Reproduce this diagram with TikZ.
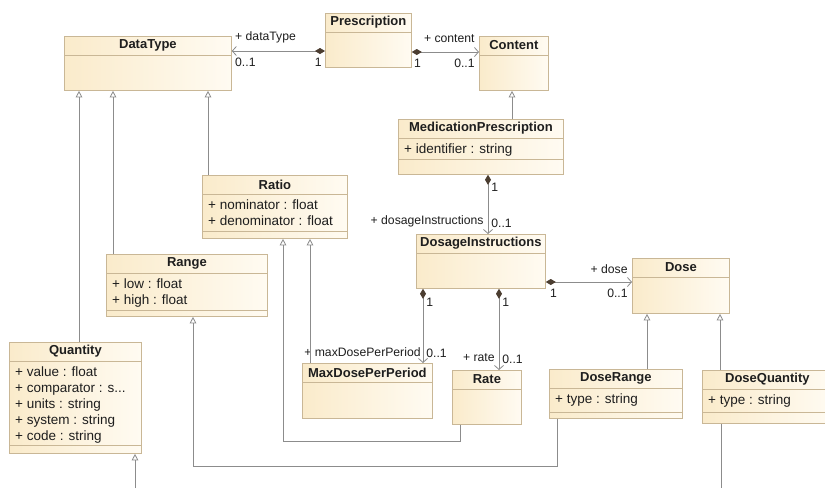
\documentclass[tikz,border=0pt]{standalone}
\usepackage{fontspec}
\setmainfont{Liberation Sans}
\usetikzlibrary{arrows.meta}

\definecolor{clsline}{HTML}{C9B796}
\definecolor{clsfill}{HTML}{FAEBCB}
\definecolor{clslight}{HTML}{FFFBF2}
\definecolor{assoc}{HTML}{8C8C8C}
\definecolor{diam}{HTML}{4B3D30}
\definecolor{ink}{HTML}{1E1E1E}

% class box: name, left, top, width, height, title
\newcommand{\umlclass}[6]{%
    \node[cls, minimum width=#4pt, minimum height=#5pt] (#1) at (#2,#3) {};
    \node[ttl] (#1-t) at ([yshift=-9.5pt]#1.north) {#6};
    \draw[clsline, line width=0.8pt] ([yshift=-19pt]#1.north west) -- ([yshift=-19pt]#1.north east);
}
% attribute compartment: class, lower divider offset, lines
\newcommand{\umlattr}[3]{%
    \node[attr] (#1-a) at ([xshift=6pt,yshift=-25pt]#1.north west) {#3};
    \draw[clsline, line width=0.8pt] ([yshift=#2pt]#1.south west) -- ([yshift=#2pt]#1.south east);
}

\begin{document}
\begin{tikzpicture}[x=1pt, y=-1pt,
    cls/.style={draw=clsline, line width=0.8pt, left color=clsfill, right color=clslight,
        anchor=north west, inner sep=0pt},
    ttl/.style={font=\fontsize{13}{15}\selectfont\bfseries, text=ink, inner sep=0pt},
    attr/.style={font=\fontsize{13.5}{16}\selectfont, text=ink, align=left, anchor=north west, inner sep=0pt},
    lbl/.style={font=\fontsize{12.2}{14}\selectfont, text=ink, inner sep=0pt},
    comp/.style={draw=assoc, line width=0.8pt,
        {Diamond[length=10pt, width=6pt, fill=diam, color=diam]}-{Straight Barb[length=4pt, width=9pt]}},
    gen/.style={draw=assoc, line width=0.8pt, -{Triangle[length=6.5pt, width=6.5pt, fill=white]}},
    plainline/.style={draw=assoc, line width=0.8pt}]
    \clip (0,0) rectangle (825,488);
    \fill[white] (0,0) rectangle (825,488);

    % classes
    \umlclass{pr}{325}{13}{86}{54}{Prescription}
    \umlclass{dt}{64}{36}{167}{54}{DataType}
    \umlclass{ct}{479}{36}{69}{54}{Content}
    \umlclass{mp}{398}{119}{165}{55}{MedicationPrescription}
    \umlattr{mp}{15}{+ identifier : string}
    \umlclass{rat}{202}{175}{145}{63}{Ratio}
    \umlattr{rat}{7}{+ nominator : float\\+ denominator : float}
    \umlclass{rng}{106}{254}{161}{62}{Range}
    \umlattr{rng}{6}{+ low : float\\+ high : float}
    \umlclass{qty}{9}{342}{132}{111}{Quantity}
    \umlattr{qty}{8}{+ value : float\\+ comparator : s...\\+ units : string\\+ system : string\\+ code : string}
    \umlclass{di}{416}{234}{129}{54}{DosageInstructions}
    \umlclass{dose}{632}{258}{97}{55}{Dose}
    \umlclass{mdp}{302}{363}{130}{55}{MaxDosePerPeriod}
    \umlclass{rate}{452}{370}{69}{54}{Rate}
    \umlclass{dr}{549}{369}{133}{49}{DoseRange}
    \umlattr{dr}{6}{+ type : string}
    \umlclass{dq}{702}{370}{130}{53}{DoseQuantity}
    \umlattr{dq}{11}{+ type : string}

    % compositions
    \draw[comp] (pr.west |- 0,51) -- (dt.east |- 0,51)
        node[lbl, at end, anchor=west, xshift=3pt, yshift=14pt] (dt-role) {+ dataType}
        node[lbl, at end, anchor=west, xshift=3pt, yshift=-11pt] (dt-mult) {0..1}
        node[lbl, at start, anchor=east, xshift=-3pt, yshift=-11pt] (pr-dt-mult) {1};
    \draw[comp] (pr.east |- 0,52) -- (ct.west |- 0,52)
        node[lbl, at end, anchor=east, xshift=-4pt, yshift=13pt] (ct-role) {+ content}
        node[lbl, at end, anchor=east, xshift=-4pt, yshift=-11pt] (ct-mult) {0..1}
        node[lbl, at start, anchor=west, xshift=2pt, yshift=-11pt] (pr-ct-mult) {1};
    \draw[comp] (mp.south -| 488,0) -- (di.north -| 488,0)
        node[lbl, at start, anchor=west, xshift=3pt, yshift=-12pt] (mp-mult) {1}
        node[lbl, at end, anchor=east, xshift=-4pt, yshift=13pt] (di-role) {+ dosageInstructions}
        node[lbl, at end, anchor=west, xshift=3pt, yshift=11pt] (di-mult) {0..1};
    \draw[comp] (di.east |- 0,282) -- (dose.west |- 0,282)
        node[lbl, at end, anchor=east, xshift=-4pt, yshift=13pt] (dose-role) {+ dose}
        node[lbl, at end, anchor=east, xshift=-4pt, yshift=-11pt] (dose-mult) {0..1}
        node[lbl, at start, anchor=west, xshift=4pt, yshift=-11pt] (di-dose-mult) {1};
    \draw[comp] (di.south -| 423,0) -- (mdp.north -| 423,0)
        node[lbl, at start, anchor=west, xshift=3pt, yshift=-13pt] (di-mdp-mult) {1}
        node[lbl, at end, anchor=east, xshift=-2pt, yshift=11pt] (mdp-role) {+ maxDosePerPeriod}
        node[lbl, at end, anchor=west, xshift=3pt, yshift=10pt] (mdp-mult) {0..1};
    \draw[comp] (di.south -| 499,0) -- (rate.north -| 499,0)
        node[lbl, at start, anchor=west, xshift=3pt, yshift=-13pt] (di-rate-mult) {1}
        node[lbl, at end, anchor=east, xshift=-4pt, yshift=12pt] (rate-role) {+ rate}
        node[lbl, at end, anchor=west, xshift=3pt, yshift=11pt] (rate-mult) {0..1};

    % generalizations
    \draw[gen] (mp.north -| 512,0) -- (ct.south -| 512,0);
    \draw[gen] (qty.north -| 79,0) -- (dt.south -| 79,0);
    \draw[gen] (rng.north -| 113,0) -- (dt.south -| 113,0);
    \draw[gen] (rat.north -| 208,0) -- (dt.south -| 208,0);
    \draw[gen] (mdp.north -| 310,0) -- (rat.south -| 310,0);
    \draw[gen] (rate.south -| 460,0) |- (283,441) -- (rat.south -| 283,0);
    \draw[gen] (dr.south -| 557,0) |- (193,466) -- (rng.south -| 193,0);
    \draw[gen] (dr.north -| 647,0) -- (dose.south -| 647,0);
    \draw[gen] (dq.north -| 720,0) -- (dose.south -| 720,0);

    % lines leaving the page
    \coordinate (qty-sub) at (135,488);
    \coordinate (dq-out) at (721,488);
    \draw[gen] (qty-sub) -- (qty.south -| qty-sub);
    \draw[plainline] (dq.south -| dq-out) -- (dq-out);
\end{tikzpicture}
\end{document}
